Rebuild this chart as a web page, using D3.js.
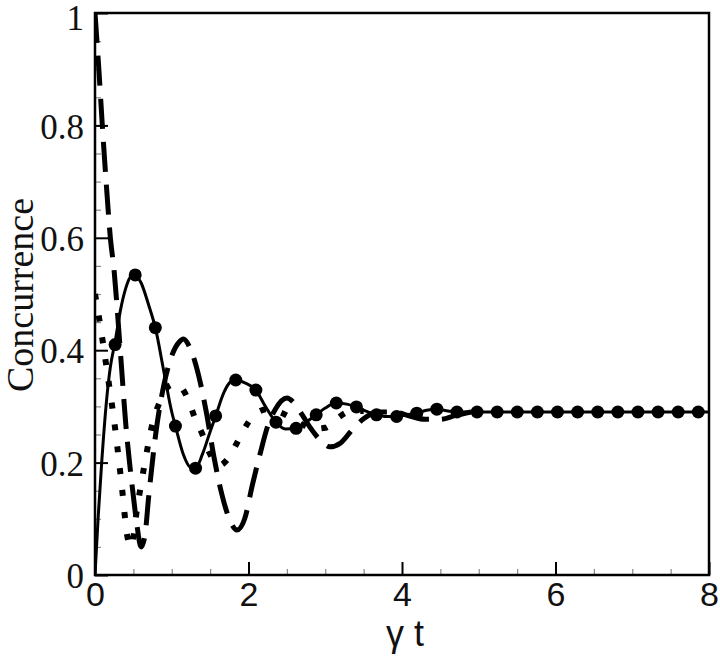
<!DOCTYPE html>
<html>
<head>
<meta charset="utf-8">
<script src="https://cdn.jsdelivr.net/npm/d3@7"></script>
<style>
  html, body { margin: 0; padding: 0; background: #fff; }
  svg { display: block; }
</style>
</head>
<body>
<svg id="chart" width="720" height="657"></svg>
<script>
// ---------------- data ----------------
const xTicks = [0, 2, 4, 6, 8];
const xTickLabels = ["0", "2", "4", "6", "8"];
const yTicks = [0, 0.2, 0.4, 0.6, 0.8, 1];
const yTickLabels = ["0", "0.2", "0.4", "0.6", "0.8", "1"];

// solid line (with circle markers)
const solidT = [0, 0.04, 0.087, 0.15, 0.2, 0.262, 0.33, 0.4, 0.46, 0.524, 0.6, 0.7, 0.786, 0.9, 1.0, 1.048, 1.15, 1.24, 1.31, 1.4, 1.5, 1.572, 1.68, 1.76, 1.834, 1.95, 2.096, 2.22, 2.358, 2.48, 2.62, 2.75, 2.882, 3.0, 3.144, 3.28, 3.406, 3.54, 3.668, 3.8, 3.93, 4.06, 4.192, 4.32, 4.454, 4.6, 4.716, 5, 6, 7, 8];
const solidC = [0, 0.1, 0.2, 0.31, 0.37, 0.415, 0.47, 0.51, 0.53, 0.534, 0.52, 0.48, 0.44, 0.36, 0.29, 0.265, 0.215, 0.192, 0.19, 0.215, 0.255, 0.283, 0.325, 0.343, 0.347, 0.342, 0.329, 0.3, 0.272, 0.26, 0.261, 0.272, 0.285, 0.297, 0.306, 0.304, 0.299, 0.291, 0.285, 0.282, 0.282, 0.285, 0.288, 0.293, 0.295, 0.292, 0.29, 0.29, 0.29, 0.29, 0.29];

// circle markers on the solid line
const markerT = [0.262, 0.524, 0.786, 1.048, 1.31, 1.572, 1.834, 2.096, 2.358, 2.62, 2.882, 3.144, 3.406, 3.668, 3.93, 4.192, 4.454, 4.716, 4.978, 5.24, 5.502, 5.764, 6.026, 6.288, 6.55, 6.812, 7.074, 7.336, 7.598, 7.86];
const markerC = [0.41, 0.534, 0.44, 0.265, 0.19, 0.283, 0.347, 0.329, 0.272, 0.261, 0.285, 0.306, 0.299, 0.285, 0.282, 0.288, 0.295, 0.29, 0.29, 0.29, 0.29, 0.29, 0.29, 0.29, 0.29, 0.29, 0.29, 0.29, 0.29, 0.29];

// long-dashed line
const dashT = [0, 0.05, 0.1, 0.15, 0.2, 0.25, 0.28, 0.34, 0.4, 0.45, 0.5, 0.55, 0.6, 0.65, 0.7, 0.8, 0.9, 1.0, 1.1, 1.15, 1.25, 1.35, 1.45, 1.55, 1.65, 1.75, 1.85, 1.95, 2.05, 2.15, 2.25, 2.35, 2.5, 2.6, 2.7, 2.8, 2.95, 3.06, 3.2, 3.35, 3.5, 3.7, 3.9, 4.1, 4.3, 4.5, 4.7, 4.9];
const dashC = [1.0, 0.9, 0.79, 0.69, 0.6, 0.54, 0.49, 0.38, 0.27, 0.2, 0.14, 0.085, 0.05, 0.07, 0.14, 0.26, 0.34, 0.39, 0.415, 0.42, 0.40, 0.355, 0.29, 0.21, 0.145, 0.1, 0.08, 0.1, 0.16, 0.215, 0.265, 0.295, 0.315, 0.305, 0.285, 0.263, 0.238, 0.228, 0.235, 0.258, 0.278, 0.29, 0.29, 0.283, 0.277, 0.277, 0.284, 0.29];

// dotted line (square dots)
const dotT = [0, 0.07, 0.16, 0.26, 0.35, 0.42, 0.47, 0.55, 0.65, 0.75, 0.85, 0.95, 1.05, 1.13, 1.22, 1.3, 1.4, 1.5, 1.62, 1.72, 1.83, 1.92, 2.0, 2.1, 2.25, 2.4, 2.55, 2.7, 2.85, 3.0, 3.16, 3.3, 3.5];
const dotC = [0.5, 0.443, 0.36, 0.263, 0.157, 0.07, 0.05, 0.12, 0.2, 0.27, 0.31, 0.335, 0.34, 0.333, 0.31, 0.28, 0.25, 0.215, 0.195, 0.205, 0.23, 0.254, 0.272, 0.288, 0.295, 0.29, 0.28, 0.268, 0.26, 0.262, 0.279, 0.29, 0.292];

// ---------------- drawing ----------------
const svg = d3.select("#chart");
const mLeft = 95, mRight = 709, mTop = 13, mBottom = 575;
const serif = "'Liberation Serif', 'Times New Roman', Times, serif";
const sans = "'Liberation Sans', Arial, Helvetica, sans-serif";

const x = d3.scaleLinear().domain([0, 8]).range([mLeft, mRight]);
const y = d3.scaleLinear().domain([0, 1]).range([mBottom, mTop]);

svg.append("defs").append("clipPath").attr("id", "plotclip")
  .append("rect").attr("x", mLeft).attr("y", mTop - 2)
  .attr("width", mRight - mLeft).attr("height", mBottom - mTop + 2);

// minor ticks
const xMinor = d3.range(0, 8.001, 0.5).filter(v => xTicks.indexOf(v) < 0);
const yMinor = d3.range(0, 1.0001, 0.05).map(v => +v.toFixed(2)).filter(v => yTicks.indexOf(v) < 0);

svg.append("g").attr("transform", `translate(0,${mBottom})`)
  .call(d3.axisBottom(x).tickValues(xMinor).tickSize(-6).tickFormat(""))
  .call(g => g.select(".domain").remove())
  .call(g => g.selectAll("line").attr("stroke", "#888").attr("stroke-width", 1.2));

svg.append("g").attr("transform", `translate(${mLeft},0)`)
  .call(d3.axisLeft(y).tickValues(yMinor).tickSize(-6).tickFormat(""))
  .call(g => g.select(".domain").remove())
  .call(g => g.selectAll("line").attr("stroke", "#888").attr("stroke-width", 1.2));

// major ticks + labels
const xAxis = svg.append("g").attr("transform", `translate(0,${mBottom})`)
  .call(d3.axisBottom(x).tickValues(xTicks).tickSize(-13).tickPadding(20)
    .tickFormat((d, i) => xTickLabels[i]));
xAxis.attr("font-family", null);
xAxis.select(".domain").remove();
xAxis.selectAll("line").attr("stroke", "#000").attr("stroke-width", 2);
xAxis.selectAll("text").style("font-family", sans)
  .style("font-size", "34px").attr("fill", "#111").attr("dy", "0.71em").attr("y", 7);

const yAxis = svg.append("g").attr("transform", `translate(${mLeft},0)`)
  .call(d3.axisLeft(y).tickValues(yTicks).tickSize(-13).tickPadding(11)
    .tickFormat((d, i) => yTickLabels[i]));
yAxis.attr("font-family", null);
yAxis.select(".domain").remove();
yAxis.selectAll("line").attr("stroke", "#000").attr("stroke-width", 2);
yAxis.selectAll("text").style("font-family", serif)
  .style("font-size", "35px").attr("fill", "#111")
  .attr("dy", d => d === 1 ? "0.48em" : "0.36em");

// curves
const plot = svg.append("g").attr("clip-path", "url(#plotclip)");
const lineGen = d3.line().x(d => x(d[0])).y(d => y(d[1])).curve(d3.curveMonotoneX);

plot.append("path").datum(dotT.map((t, i) => [t, dotC[i]]))
  .attr("d", lineGen).attr("fill", "none").attr("stroke", "#000")
  .attr("stroke-width", 6).attr("stroke-dasharray", "6,16");

plot.append("path").datum(dashT.map((t, i) => [t, dashC[i]]))
  .attr("d", lineGen).attr("fill", "none").attr("stroke", "#000")
  .attr("stroke-width", 5).attr("stroke-dasharray", "30,13");

plot.append("path").datum(solidT.map((t, i) => [t, solidC[i]]))
  .attr("d", lineGen).attr("fill", "none").attr("stroke", "#000")
  .attr("stroke-width", 3);

plot.selectAll("circle.m").data(markerT.map((t, i) => [t, markerC[i]]))
  .join("circle").attr("class", "m")
  .attr("cx", d => x(d[0])).attr("cy", d => y(d[1])).attr("r", 6.5).attr("fill", "#000");

// frame
svg.append("rect").attr("x", mLeft).attr("y", mTop)
  .attr("width", mRight - mLeft).attr("height", mBottom - mTop)
  .attr("fill", "none").attr("stroke", "#000").attr("stroke-width", 2.5);

// axis titles
svg.append("text").attr("x", 405).attr("y", 646).attr("text-anchor", "middle")
  .style("font-family", sans).style("font-size", "36px")
  .attr("fill", "#111").text("γ t");

svg.append("text").attr("transform", "translate(33,295) rotate(-90)")
  .attr("text-anchor", "middle")
  .style("font-family", serif).style("font-size", "38px")
  .attr("fill", "#111").text("Concurrence");
</script>
</body>
</html>
